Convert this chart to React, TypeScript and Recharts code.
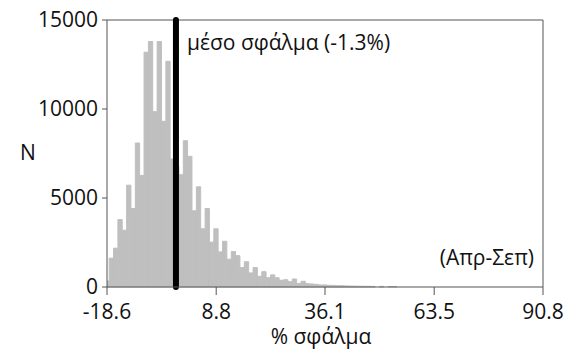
import { BarChart, Bar, XAxis, YAxis, ReferenceLine } from 'recharts';

// histogram: 100 bins between -18.6 and 90.8, bars centred on bin start
const BIN_START = -18.6;
const BIN_WIDTH = 1.094;

const counts = [
  340, 1620, 2180, 3790, 3190, 5720, 4410, 8090, 6270, 13190,
  13790, 9850, 13790, 9310, 12680, 7190, 6800, 6310, 8220, 7340,
  4280, 5630, 3270, 4410, 2520, 3270, 1970, 2570, 1560, 1990,
  1760, 1090, 1420, 790, 1090, 600, 860, 520, 680, 520,
  380, 410, 300, 450, 200, 320, 190, 170, 150, 115,
  115, 95, 90, 75, 75, 60, 55, 50, 45, 40,
  40, 35, 0, 35, 0, 30, 30,
];

const xTicks = [-18.6, 8.8, 36.1, 63.5, 90.8];
const yTicks = [0, 5000, 10000, 15000];

const meanError = -1.3;
const meanLabel = 'μέσο σφάλμα (-1.3%)';
const periodLabel = '(Απρ-Σεπ)';
const xTitle = '% σφάλμα';
const yTitle = 'N';

const data = counts.map((n, i) => ({ x: +(BIN_START + i * BIN_WIDTH).toFixed(3), n }));

const FONT = '"Open Sans", sans-serif';
const FS = 21;
const AXIS = '#555';
const INK = '#111';
const BAR = '#bfbfbf';

const MeanText = ({ viewBox }: any) => (
  <text x={viewBox.x + 11} y={viewBox.y + 30} fontFamily={FONT} fontSize={FS} fill={INK}>
    {meanLabel}
  </text>
);

const PeriodText = ({ viewBox }: any) => (
  <text
    x={viewBox.x - 9}
    y={viewBox.y + viewBox.height - 22}
    textAnchor="end"
    fontFamily={FONT}
    fontSize={FS}
    fill={INK}
  >
    {periodLabel}
  </text>
);

const XTitle = ({ viewBox }: any) => (
  <text
    x={viewBox.x + viewBox.width / 2 - 4}
    y={viewBox.y + 57}
    textAnchor="middle"
    fontFamily={FONT}
    fontSize={FS}
    fill={INK}
  >
    {xTitle}
  </text>
);

const YTitle = ({ viewBox }: any) => (
  <text
    x={viewBox.x + 28}
    y={viewBox.y + viewBox.height / 2 + 6}
    textAnchor="middle"
    fontFamily={FONT}
    fontSize={FS}
    fill={INK}
  >
    {yTitle}
  </text>
);

export default function App() {
  const tick = { fontFamily: FONT, fontSize: FS, fill: INK };
  return (
    <div style={{ position: 'absolute', left: 0, top: 0, background: '#fff' }}>
      <BarChart
        width={577}
        height={349}
        data={data}
        margin={{ top: 20, right: 34, bottom: 0, left: 0 }}
        barCategoryGap={0}
        barGap={0}
      >
        <XAxis
          dataKey="x"
          type="number"
          domain={[-18.6, 90.8]}
          ticks={xTicks}
          tickFormatter={(v: number) => v.toFixed(1)}
          allowDataOverflow
          height={62}
          tickSize={8}
          tickMargin={9}
          tick={tick}
          stroke={AXIS}
          tickLine={{ stroke: AXIS }}
          interval={0}
          label={<XTitle />}
        />
        <YAxis
          type="number"
          domain={[0, 15000]}
          ticks={yTicks}
          width={107}
          tickSize={5}
          tickMargin={4}
          tick={tick}
          stroke={AXIS}
          tickLine={{ stroke: AXIS }}
          interval={0}
          label={<YTitle />}
        />
        <Bar
          dataKey="n"
          fill={BAR}
          stroke={BAR}
          strokeWidth={1}
          barSize={4.3}
          isAnimationActive={false}
        />
        <ReferenceLine y={15000} stroke={AXIS} />
        <ReferenceLine x={90.8} stroke={AXIS} label={<PeriodText />} />
        <ReferenceLine
          x={meanError}
          stroke="#000"
          strokeWidth={6}
          strokeLinecap="round"
          label={<MeanText />}
        />
      </BarChart>
    </div>
  );
}
